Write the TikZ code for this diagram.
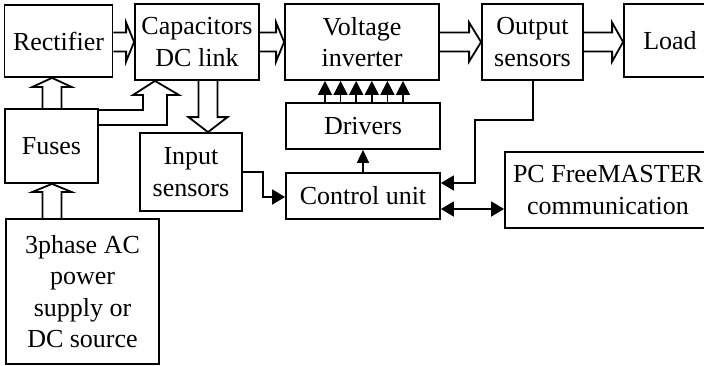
\documentclass[tikz,border=0pt]{standalone}
\usepackage{fontspec}
\setmainfont{Liberation Serif}
\usetikzlibrary{calc,arrows.meta}
\tikzset{
  blk/.style={draw,line width=1.8pt,inner sep=0pt,align=center,
    font=\fontsize{26}{31.5}\selectfont},
  hollow/.style={draw,line width=1.8pt,line join=miter},
  wire/.style={draw,line width=1.8pt},
  tip/.style={-{Triangle[length=13pt,width=15pt]}},
  smalltip/.style={line width=1.6pt,-{Triangle[length=14pt,width=14pt]}},
}
\newcommand\hollowarrow[3][10pt]{%
  \path (#2) coordinate (ha) (#3) coordinate (hb);
  \path ($(hb)!#1!(ha)$) coordinate (hh);
  \draw[hollow] ($(ha)!9.5pt!90:(hb)$) -- ($(hh)!9.5pt!-90:(ha)$)
    -- ($(hh)!19.5pt!-90:(ha)$) -- (hb) -- ($(hh)!19.5pt!90:(ha)$)
    -- ($(hh)!9.5pt!90:(ha)$) -- ($(ha)!9.5pt!-90:(hb)$);
}
\begin{document}
\begin{tikzpicture}[x=1pt,y=-1pt]
\useasboundingbox (0,0) rectangle (704,365);
\clip (0,0) rectangle (704,365);
% boxes
\node[blk,minimum width=108pt,minimum height=72pt] (rect) at (58.5,41) {Rectifier};
\node[blk,minimum width=124pt,minimum height=76pt] (cap) at (197,42) {Capacitors\\DC link};
\node[blk,minimum width=154pt,minimum height=76pt] (inv) at (362,42) {Voltage\\inverter};
\node[blk,minimum width=101pt,minimum height=76pt] (out) at (532.5,42) {Output\\sensors};
\node[blk,minimum width=92pt,minimum height=73pt] (load) at (670,40.5) {Load};
\node[blk,minimum width=93pt,minimum height=74pt] (fuses) at (51.5,146) {Fuses};
\node[blk,minimum width=102pt,minimum height=78pt] (ins) at (191,172) {Input\\sensors};
\node[blk,minimum width=153pt,minimum height=145pt] (src) at (82.5,291.5) {3phase AC\\power\\supply or\\DC source};
\node[blk,minimum width=154pt,minimum height=46pt] (drv) at (363,126) {Drivers};
\node[blk,minimum width=154pt,minimum height=46pt] (ctrl) at (363,196) {Control unit};
\node[blk,minimum width=206pt,minimum height=76pt] (pc) at (608,190) {PC FreeMASTER\\communication};
% hollow power arrows
\hollowarrow[8pt]{rect.east |- 0,42}{cap.west |- 0,42}
\hollowarrow[8pt]{cap.east |- 0,42}{inv.west |- 0,42}
\hollowarrow[12pt]{inv.east |- 0,42}{out.west |- 0,42}
\hollowarrow[11pt]{out.east |- 0,42}{load.west |- 0,42}
\hollowarrow[9pt]{fuses.north -| 52,0}{rect.south -| 52,0}
\hollowarrow[8pt]{src.north -| 52,0}{fuses.south -| 52,0}
\hollowarrow[15pt]{cap.south -| 208,0}{ins.north -| 208,0}
\draw[hollow] (fuses.east |- 0,110) -- (143,110) -- (143,95) -- (133,95)
  -- (cap.south -| 155,0) -- (179,95) -- (167,95) -- (167,125) -- (fuses.east |- 0,125);
% driver signals
\foreach \k in {0,...,5}{
  \pgfmathsetmacro\xx{325+15.6*\k}
  \draw[smalltip] (drv.north -| \xx,0) -- (inv.south -| \xx,0);
}
% control signals
\draw[wire,-{Triangle[length=13pt,width=12pt]}] (ctrl.north) -- (drv.south);
\draw[wire,tip] (out.south -| 533,0) -- (533,120) -- (475,120) |- (ctrl.east |- 0,183);
\draw[wire,tip] (ins.east |- 0,172) -- (263,172) |- (ctrl.west |- 0,197);
\draw[wire,{Triangle[length=13pt,width=15pt]}-{Triangle[length=13pt,width=15pt]}] (ctrl.east |- 0,209) -- (pc.west |- 0,209);
\end{tikzpicture}
\end{document}
